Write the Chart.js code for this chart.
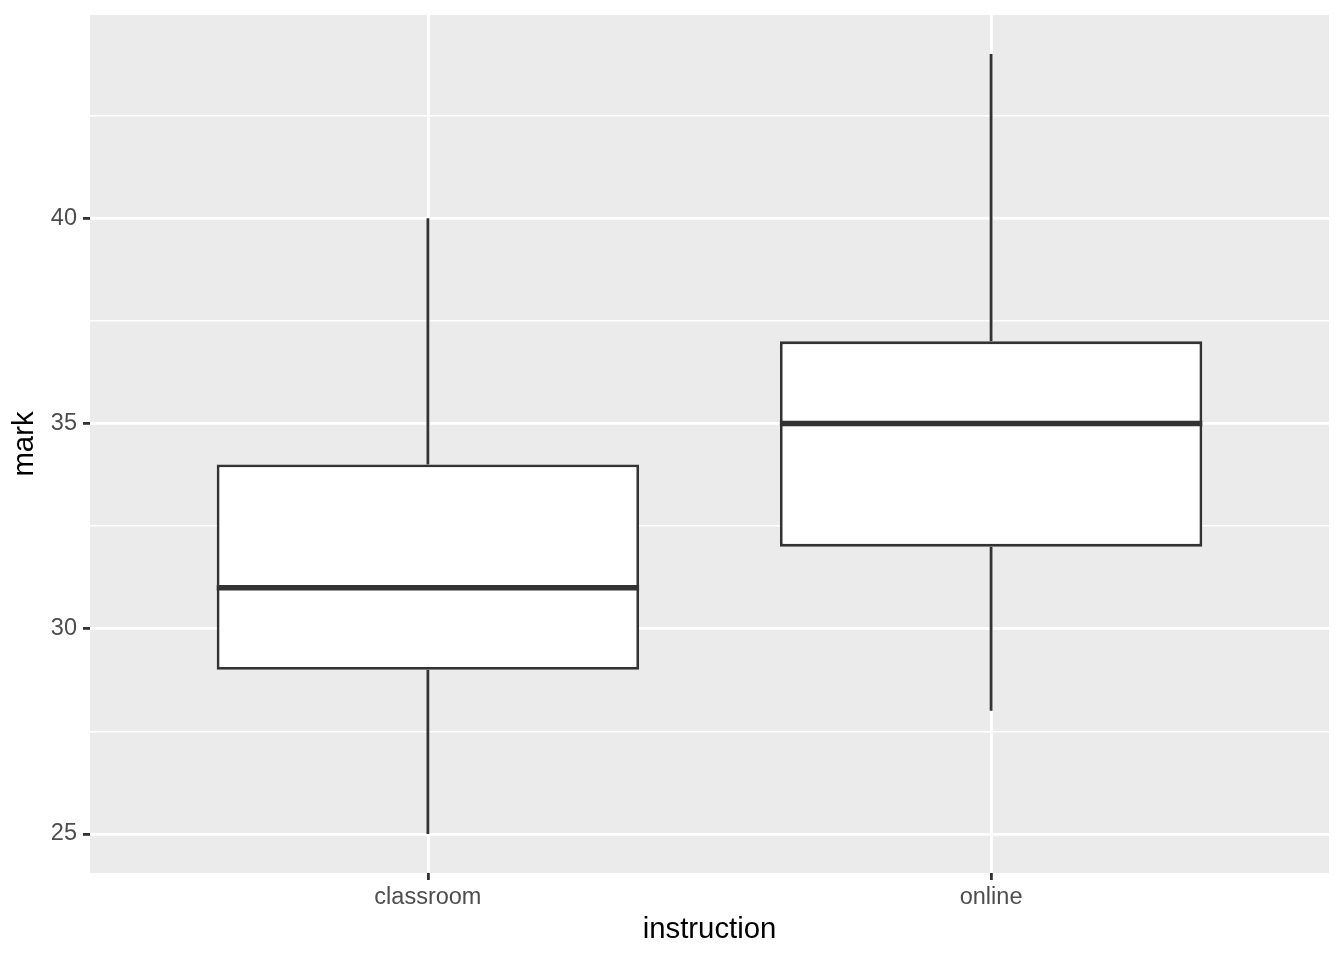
<!DOCTYPE html>
<html>
<head>
<meta charset="utf-8">
<script src="https://cdn.jsdelivr.net/npm/chart.js@4.4.1/dist/chart.umd.min.js"></script>
<style>
  html, body { margin: 0; padding: 0; background: #ffffff; }
  #wrap { width: 1344px; height: 960px; }
</style>
</head>
<body>
<div id="wrap"><canvas id="chart" width="1344" height="960"></canvas></div>
<script>
// box plot summary per instruction type
var categories = ["classroom", "online"];
var lowWhisker = [25, 28];
var q1 = [29, 32];
var median = [31, 35];
var q3 = [34, 37];
var highWhisker = [40, 44];
var yTickLabels = [25, 30, 35, 40];

var INK = "#333333";
var FONT = "'Liberation Sans', Arial, Helvetica, sans-serif";

var boxData = categories.map(function (c, i) {
    return { x: i + 1, y: [q1[i], q3[i]] };
});

// panel background, whiskers and medians use the chart's own scales
var boxplotPlugin = {
    id: "boxplot",
    beforeDraw: function (chart) {
        var a = chart.chartArea, ctx = chart.ctx;
        ctx.save();
        ctx.fillStyle = "#EBEBEB";
        ctx.fillRect(a.left, a.top, a.right - a.left, a.bottom - a.top);
        ctx.restore();
    },
    beforeDatasetsDraw: function (chart) {
        var ctx = chart.ctx, xs = chart.scales.x, ys = chart.scales.y;
        ctx.save();
        ctx.strokeStyle = INK;
        ctx.lineWidth = 2.8;
        categories.forEach(function (c, i) {
            var px = xs.getPixelForValue(i + 1);
            ctx.beginPath();
            ctx.moveTo(px, ys.getPixelForValue(highWhisker[i]));
            ctx.lineTo(px, ys.getPixelForValue(q3[i]));
            ctx.moveTo(px, ys.getPixelForValue(q1[i]));
            ctx.lineTo(px, ys.getPixelForValue(lowWhisker[i]));
            ctx.stroke();
        });
        ctx.restore();
    },
    afterDatasetsDraw: function (chart) {
        var ctx = chart.ctx, ys = chart.scales.y;
        var meta = chart.getDatasetMeta(0);
        ctx.save();
        ctx.strokeStyle = INK;
        ctx.lineWidth = 5.6;
        meta.data.forEach(function (bar, i) {
            var py = ys.getPixelForValue(median[i]);
            ctx.beginPath();
            ctx.moveTo(bar.x - bar.width / 2, py);
            ctx.lineTo(bar.x + bar.width / 2, py);
            ctx.stroke();
        });
        ctx.restore();
    }
};

new Chart(document.getElementById("chart"), {
    type: "bar",
    data: {
        datasets: [{
            data: boxData,
            backgroundColor: "#ffffff",
            borderColor: INK,
            borderWidth: 2.8,
            borderSkipped: false,
            categoryPercentage: 0.75,
            barPercentage: 1.0
        }]
    },
    options: {
        responsive: false,
        animation: false,
        events: [],
        layout: { padding: { top: 15, right: 15, left: 0, bottom: 0 } },
        plugins: { legend: { display: false }, tooltip: { enabled: false } },
        scales: {
            x: {
                type: "linear",
                min: 0.4,
                max: 2.6,
                offset: false,
                afterBuildTicks: function (scale) {
                    scale.ticks = categories.map(function (c, i) { return { value: i + 1 }; });
                },
                afterFit: function (scale) {
                    scale.height = 87;
                    scale.paddingLeft = 0;
                    scale.paddingRight = 0;
                },
                border: { display: false },
                grid: {
                    offset: false,
                    color: "#ffffff",
                    lineWidth: 2.8,
                    drawTicks: true,
                    tickLength: 7,
                    tickColor: INK,
                    tickWidth: 2.8
                },
                ticks: {
                    autoSkip: false,
                    maxRotation: 0,
                    padding: 3,
                    color: "#4D4D4D",
                    font: { family: FONT, size: 23.5 },
                    callback: function (v) { return categories[Math.round(v) - 1]; }
                },
                title: {
                    display: true,
                    text: "instruction",
                    color: "#000000",
                    font: { family: FONT, size: 29.3 },
                    padding: { top: 0, bottom: 13 }
                }
            },
            y: {
                min: 24.05,
                max: 44.95,
                afterFit: function (scale) {
                    scale.width = 90;
                    scale.paddingTop = 0;
                    scale.paddingBottom = 0;
                },
                border: { display: false },
                grid: {
                    color: "#ffffff",
                    lineWidth: function (ctx) {
                        return ctx.tick && yTickLabels.indexOf(ctx.tick.value) >= 0 ? 2.8 : 1.4;
                    },
                    drawTicks: true,
                    tickLength: 7,
                    tickColor: function (ctx) {
                        return ctx.tick && yTickLabels.indexOf(ctx.tick.value) >= 0 ? INK : "rgba(0,0,0,0)";
                    },
                    tickWidth: 2.8
                },
                ticks: {
                    stepSize: 2.5,
                    includeBounds: false,
                    autoSkip: false,
                    padding: 6,
                    color: "#4D4D4D",
                    font: { family: FONT, size: 23.5 },
                    callback: function (v) { return yTickLabels.indexOf(v) >= 0 ? String(v) : ""; }
                },
                title: {
                    display: true,
                    text: "mark",
                    color: "#000000",
                    font: { family: FONT, size: 29.3 },
                    padding: { top: 7, bottom: 0 }
                }
            }
        }
    },
    plugins: [boxplotPlugin]
});
</script>
</body>
</html>
